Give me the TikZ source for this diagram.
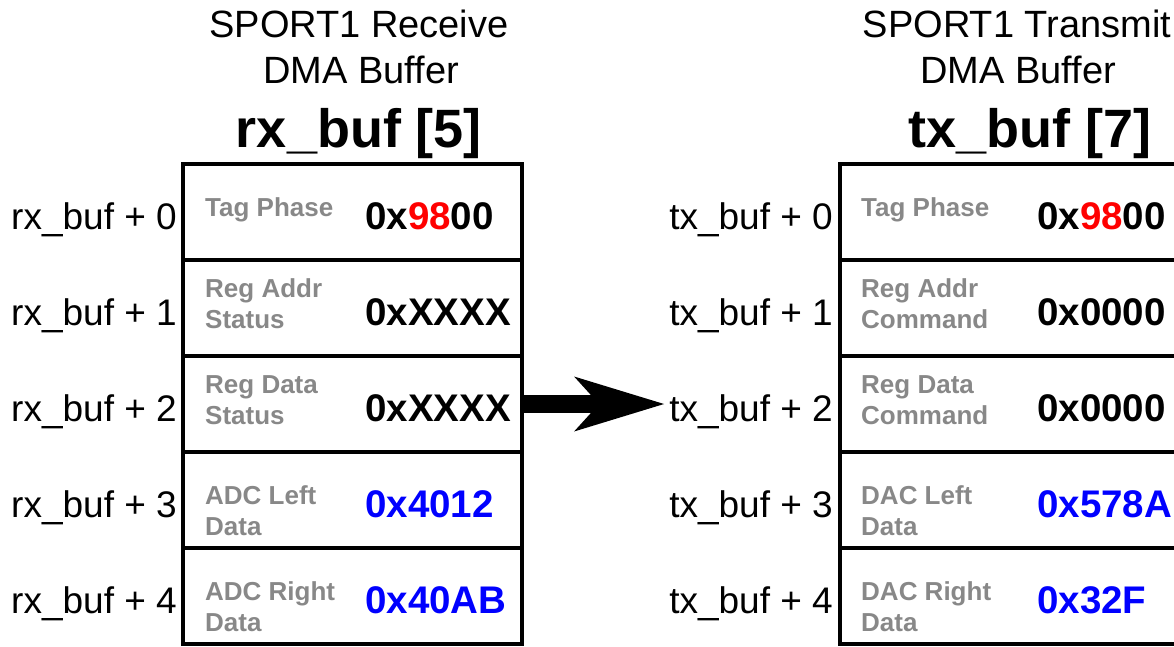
\documentclass[tikz,border=0pt]{standalone}
\usepackage{fontspec}
\setmainfont{Liberation Sans}
\usetikzlibrary{arrows.meta}
\definecolor{lblgray}{HTML}{888888}
\definecolor{valblue}{HTML}{0000FF}
\definecolor{tagred}{HTML}{FF0000}

\begin{document}
\begin{tikzpicture}[x=1pt,y=-1pt,
  cell/.style={draw, line width=3.5pt, rectangle, inner sep=0pt, minimum height=96pt},
  rxcell/.style={cell, minimum width=339pt},
  txcell/.style={cell, minimum width=360pt},
  field/.style={anchor=base west, inner sep=0pt, align=left, text=lblgray,
                font=\fontsize{26}{31}\selectfont\bfseries},
  value/.style={anchor=base west, inner sep=0pt, font=\fontsize{38.5}{40}\selectfont\bfseries},
  blueval/.style={value, text=valblue},
  index/.style={anchor=base east, inner sep=0pt, font=\fontsize{37}{40}\selectfont},
  head/.style={anchor=base, inner sep=0pt, font=\fontsize{38}{40}\selectfont},
  bufname/.style={anchor=base, inner sep=0pt, font=\fontsize{54}{60}\selectfont\bfseries},
  xfer/.style={line width=18pt, shorten >=5pt,
               -{Stealth[length=90pt, width=55pt, inset=25pt, line width=0pt]}},
]
\useasboundingbox (0,0) rectangle (1174,646);
\clip (0,0) rectangle (1174,646);

% ---- buffer headings
\node[head] (rxh1) at (359,37) {SPORT1 Receive};
\node[head] (rxh2) at (361,83) {DMA Buffer};
\node[bufname] (rxname) at (359,147) {rx\_buf [5]};
\node[head] (txh1) at (1017,37) {SPORT1 Transmit};
\node[head] (txh2) at (1018,83) {DMA Buffer};
\node[bufname] (txname) at (1030,147) {tx\_buf [7]};

% ---- buffer words and their offsets
\foreach \i in {0,...,4} {
  \node[rxcell] (rx\i) at (352.5, {212+96*\i}) {};
  \node[txcell] (tx\i) at (1020, {212+96*\i}) {};
  \node[index] (rl\i) at (177, {229+96*\i}) {rx\_buf + \i};
  \node[index] (tl\i) at (833, {229+96*\i}) {tx\_buf + \i};
}

% ---- field names (placed on the baseline of their last line)
\node[field] (rf0) at (205,216) {Tag Phase};
\node[field] (rf1) at (205,328) {Reg Addr\\Status};
\node[field] (rf2) at (205,424) {Reg Data\\Status};
\node[field] (rf3) at (205,535) {ADC Left\\Data};
\node[field] (rf4) at (205,631) {ADC Right\\Data};
\node[field] (tf0) at (861,216) {Tag Phase};
\node[field] (tf1) at (861,328) {Reg Addr\\Command};
\node[field] (tf2) at (861,424) {Reg Data\\Command};
\node[field] (tf3) at (861,535) {DAC Left\\Data};
\node[field] (tf4) at (861,631) {DAC Right\\Data};

% ---- word values
\node[value] (rv0) at (365,229) {0x{\color{tagred}98}00};
\node[value] (rv1) at (365,325) {0xXXXX};
\node[value] (rv2) at (365,421) {0xXXXX};
\node[blueval] (rv3) at (365,517) {0x4012};
\node[blueval] (rv4) at (365,613) {0x40AB};
\node[value] (tv0) at (1037,229) {0x{\color{tagred}98}00};
\node[value] (tv1) at (1037,325) {0x0000};
\node[value] (tv2) at (1037,421) {0x0000};
\node[blueval] (tv3) at (1037,517) {0x578A};
\node[blueval] (tv4) at (1037,613) {0x32F};

% ---- copy from receive to transmit buffer
\draw[xfer] (rx2.east) -- (rx2.east -| tl2.west);
\end{tikzpicture}
\end{document}
